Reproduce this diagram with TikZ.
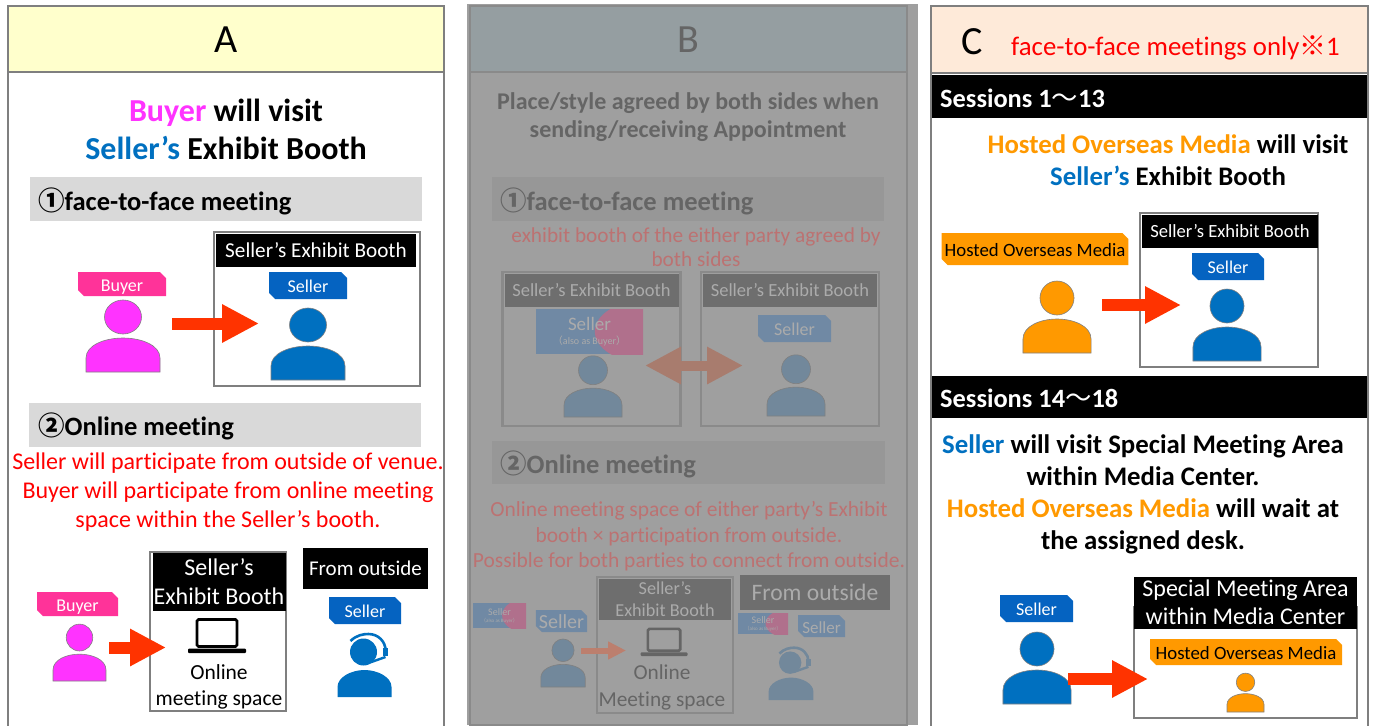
\documentclass[tikz,border=0pt]{standalone}
\usepackage{fontspec}
\setmainfont[Ligatures=NoCommon]{Carlito}
\newfontfamily\cjk{Noto Sans CJK JP}
\usetikzlibrary{shapes.misc,arrows.meta}
\definecolor{headyellow}{HTML}{FFFFCC}
\definecolor{headpeach}{HTML}{FEEAD9}
\definecolor{edgegray}{HTML}{7F7F7F}
\definecolor{bargray}{HTML}{D9D9D9}
\definecolor{buyerpink}{HTML}{FF33FF}
\definecolor{tagpink}{HTML}{FF3399}
\definecolor{sellerblue}{HTML}{0070C0}
\definecolor{tagblue}{HTML}{0563C1}
\definecolor{mediaorange}{HTML}{FF9900}
\definecolor{arrowred}{HTML}{FF3300}
\definecolor{dimback}{HTML}{9F9F9F}
\definecolor{dimhead}{HTML}{959EA1}
\definecolor{dimedge}{HTML}{8A8A8A}
\definecolor{dimbar}{HTML}{979797}
\definecolor{dimtext}{HTML}{656565}
\definecolor{dimred}{HTML}{BC7272}
\definecolor{dimblack}{HTML}{6E6E6E}
\definecolor{dimlight}{HTML}{ABABAB}
\definecolor{dimblue}{HTML}{72889B}
\definecolor{dimtag}{HTML}{7089A4}
\definecolor{dimpink}{HTML}{B0708C}
\definecolor{dimarrow}{HTML}{A87C6E}
\definecolor{dimarrowtwo}{HTML}{BC7F6E}
\newcommand{\fs}[2]{\fontsize{#1}{#2}\selectfont}
\newcommand{\tagtxt}[1]{\raisebox{-3.5pt}{#1}}
\tikzstyle{panel} = [rectangle,draw=edgegray,line width=1.5pt,inner sep=0pt]
\tikzstyle{booth} = [rectangle,draw=edgegray,line width=2.5pt,fill=white,inner sep=0pt]
\tikzstyle{blackbar} = [rectangle,fill=black,text=white,inner sep=0pt,align=center]
\tikzstyle{graybar} = [rectangle,fill=bargray,inner sep=0pt]
\tikzstyle{tagbox} = [chamfered rectangle,chamfered rectangle corners={north east,south west},chamfered rectangle sep=3pt,inner sep=0pt,text=white,text height=.75em,text depth=0pt,font=\fs{18}{20}]
\tikzstyle{persongap} = [rectangle,inner sep=0pt]
\tikzstyle{bigarrow} = [line width=12pt,draw=arrowred,-{Triangle[length=37pt,width=36pt]}]
\tikzstyle{dimarrowline} = [line width=10pt,draw=dimarrow,{Triangle[length=36pt,width=35pt]}-{Triangle[length=36pt,width=35pt]}]
\tikzstyle{title} = [inner sep=0pt,font=\bfseries\fs{32}{38},align=center]
\tikzstyle{note} = [inner sep=0pt,text=red,align=center]
\tikzset{dualtag/.style 2 args={rectangle,inner sep=0pt,fill=dimtag,text=dimlight,align=center,minimum width=#1,minimum height=#2,
  path picture={\fill[dimpink] (path picture bounding box.east) ellipse [x radius=.45*#1,y radius=.68*#2];}}}
\newcommand{\person}[6]{
  \begin{scope}[shift={(#2,#3)},xscale=#4,yscale=#5]
  \fill[#6,draw=gray,line width=.6pt] (-37,0)--(-37,-14) .. controls (-37,-27) and (-18,-34) .. (0,-34) .. controls (18,-34) and (37,-27) .. (37,-14)--(37,0)--cycle;
  \fill[#6,draw=gray,line width=.6pt] (0,-55) ellipse [x radius=18.5,y radius=17];
  \node(#1)[persongap,minimum width=#4*74pt,minimum height=#5*72pt] at (0,-36){};
  \end{scope}}
\newcommand{\headset}[5]{
  \begin{scope}[shift={(#2,#3)},scale=#4]
  \fill[#5] (-27,0)--(-27,-10) .. controls (-27,-20) and (-13,-27) .. (0,-27) .. controls (13,-27) and (27,-20) .. (27,-10)--(27,0)--cycle;
  \fill[#5] (-1,-45) circle (13.5);
  \draw[#5,line width=2.6pt] (-14,-56) .. controls (-8,-62) and (-1,-63) .. (4,-63) .. controls (14,-63) and (21,-55) .. (21,-47);
  \draw[#5,line width=5pt] (21,-49)--(21,-41);
  \draw[#5,line width=2.4pt] (21,-40)--(4,-34);
  \node(#1)[persongap,minimum width=#4*54pt,minimum height=#4*65pt] at (0,-32){};
  \end{scope}}
\newcommand{\laptop}[5]{
  \begin{scope}[shift={(#2,#3)},scale=#4]
  \draw[#5,line width=2.6pt,rounded corners=1.5pt] (-20,-6.5) rectangle (20,-33.5);
  \fill[#5,rounded corners=1pt] (-29,-4.5) rectangle (29,0);
  \coordinate(#1) at (0,-20);
  \end{scope}}
\begin{document}
\begin{tikzpicture}[x=1pt,y=-1pt]
\clip (0,0) rectangle (1375,725);
\fill[white] (0,0) rectangle (1375,725);

\node(panela)[panel,fill=white,minimum width=436pt,minimum height=673pt] at (226,408.5){};
\node(heada)[panel,fill=headyellow,minimum width=436pt,minimum height=66pt] at (226,39){};
\node(lettera)[inner sep=0pt,font=\fs{40}{42}] at (226,40){A};
\node(titlea)[title] at (226,129){{\color{buyerpink}Buyer} will visit\\{\color{sellerblue}Seller’s} Exhibit Booth};

\node(baraone)[graybar,minimum width=392pt,minimum height=44pt] at (226,199){};
\node[inner sep=0pt,anchor=west,font=\bfseries\fs{26.5}{30}] at (38,201){{\cjk ①}face-to-face meeting};
\node(boothone)[booth,minimum width=206pt,minimum height=154pt] at (317,309){};
\node(boothonebar)[blackbar,minimum width=200pt,minimum height=33pt,font=\fs{21.2}{24}] at (316,250.5){Seller’s Exhibit Booth};
\node(buyertagone)[tagbox,fill=tagpink,minimum width=88pt,minimum height=24pt] at (122,284){\tagtxt{Buyer}};
\node(sellertagone)[tagbox,fill=tagblue,minimum width=78pt,minimum height=27pt] at (308,285.5){\tagtxt{Seller}};
\person{buyerone}{123}{372}{1}{1}{buyerpink}
\person{sellerone}{308}{380}{1}{1}{sellerblue}
\coordinate(tipone) at (259,323.5);
\draw[bigarrow] (buyerone.east |- tipone) ++(12,0) -- (tipone);

\node(baratwo)[graybar,minimum width=392pt,minimum height=44pt] at (225,425){};
\node[inner sep=0pt,anchor=west,font=\bfseries\fs{26.5}{30}] at (38,426){{\cjk ②}Online meeting};
\node(notea)[note,font=\fs{24}{29}] at (228,492.5){Seller will participate from outside of venue.\\Buyer will participate from online meeting\\space within the Seller’s booth.};
\node(boothtwo)[booth,minimum width=136pt,minimum height=159pt] at (218,631.5){};
\node(boothtwobar)[blackbar,minimum width=133pt,minimum height=58pt,font=\fs{24}{29}] at (219,582){Seller’s\\Exhibit Booth};
\laptop{laptopa}{217}{653}{1}{black}
\node(laptopatext)[inner sep=0pt,align=center,font=\fs{21.5}{26}] at (219,687){Online\\meeting space};
\node(outsidea)[blackbar,minimum width=125pt,minimum height=41pt,font=\fs{21}{24}] at (365.5,568.5){From outside};
\node(sellertagout)[tagbox,fill=tagblue,minimum width=72pt,minimum height=27pt] at (365,610.5){\tagtxt{Seller}};
\headset{agenta}{364.5}{697}{1}{sellerblue}
\node(buyertagtwo)[tagbox,fill=tagpink,minimum width=81pt,minimum height=24pt] at (77.5,604){\tagtxt{Buyer}};
\person{buyertwo}{79.5}{681}{.716}{.79}{buyerpink}
\coordinate(tiptwo) at (166,647.5);
\draw[bigarrow,-{Triangle[length=36pt,width=35pt]}] (buyertwo.east |- tiptwo) ++(3,0) -- (tiptwo);

\fill[dimback] (467,4) rectangle (918,725);
\node(panelb)[panel,draw=dimedge,minimum width=437pt,minimum height=653pt] at (688.5,398.5){};
\node(headb)[panel,draw=dimedge,fill=dimhead,minimum width=437pt,minimum height=66pt] at (688.5,39){};
\node(letterb)[inner sep=0pt,text=dimtext,font=\fs{40}{42}] at (688,40){B};
\node(titleb)[title,text=dimtext,font=\bfseries\fs{24}{28}] at (688,117){Place/style agreed by both sides when\\sending/receiving Appointment};

\node(barbone)[graybar,fill=dimbar,minimum width=392pt,minimum height=44pt] at (688,199){};
\node[inner sep=0pt,anchor=west,text=dimtext,font=\bfseries\fs{26.5}{30}] at (500,201){{\cjk ①}face-to-face meeting};
\node(noteb)[note,text=dimred,font=\fs{21.3}{24.5}] at (696,247){exhibit booth of the either party agreed by\\both sides};
\node(boothbl)[booth,draw=dimedge,fill=dimback,minimum width=178pt,minimum height=154pt] at (591.5,349){};
\node(boothblbar)[blackbar,fill=dimblack,text=dimlight,minimum width=174pt,minimum height=33pt,font=\fs{18.5}{24}] at (591.5,290){Seller’s Exhibit Booth};
\node(boothbr)[booth,draw=dimedge,fill=dimback,minimum width=178pt,minimum height=154pt] at (790,349){};
\node(boothbrbar)[blackbar,fill=dimblack,text=dimlight,minimum width=174pt,minimum height=33pt,font=\fs{18.5}{24}] at (790,290){Seller’s Exhibit Booth};
\node(dualone)[dualtag={107pt}{45pt},font=\fs{19}{14}] at (589.5,331.5){Seller\\{\fs{10}{12}{\cjk （}also as Buyer{\cjk ）}}};
\node(sellertagbone)[tagbox,fill=dimtag,text=dimlight,minimum width=73pt,minimum height=27pt] at (794.5,328.5){\tagtxt{Seller}};
\person{sellerbl}{593}{417}{.784}{.85}{dimblue}
\person{sellerbr}{796}{416}{.784}{.85}{dimblue}
\coordinate(tipbl) at (645,365.5);
\coordinate(tipbr) at (743,365.5);
\draw[dimarrowline] (tipbl) -- (tipbr);

\node(barbtwo)[graybar,fill=dimbar,minimum width=393pt,minimum height=43pt] at (688.5,462.5){};
\node[inner sep=0pt,anchor=west,text=dimtext,font=\bfseries\fs{26.5}{30}] at (500,464){{\cjk ②}Online meeting};
\node(notebtwo)[note,text=dimred,font=\fs{21.5}{25.5}] at (689,536.5){Online meeting space of either party’s Exhibit\\booth × participation from outside.\\Possible for both parties to connect from outside.};
\node(boothbtwo)[booth,draw=dimedge,fill=dimback,minimum width=136pt,minimum height=136pt] at (665,645){};
\node(boothbtwobar)[blackbar,fill=dimblack,text=dimlight,minimum width=132pt,minimum height=41pt,font=\fs{18.2}{22}] at (665,599.5){Seller’s\\Exhibit Booth};
\laptop{laptopb}{664}{656}{.81}{dimtext}
\node(laptopbtext)[inner sep=0pt,align=center,text=dimtext,font=\fs{21.3}{27}] at (662,687){Online\\Meeting space};
\node(outsideb)[blackbar,fill=dimblack,text=dimlight,minimum width=150pt,minimum height=35pt,font=\fs{23.6}{28}] at (815,592.5){From outside};
\node(dualtwo)[dualtag={53pt}{25pt},font=\fs{10}{7}] at (499.5,615.5){Seller\\{\fs{5}{6}{\cjk （}also as Buyer{\cjk ）}}};
\node(dualthree)[dualtag={50pt}{21pt},font=\fs{10}{7}] at (763,623.5){Seller\\{\fs{5}{6}{\cjk （}also as Buyer{\cjk ）}}};
\node(sellertagbl)[tagbox,fill=dimtag,text=dimlight,minimum width=47pt,minimum height=22pt,font=\fs{20}{22}] at (561.5,621){\tagtxt{Seller}};
\node(sellertagbr)[tagbox,fill=dimtag,text=dimlight,minimum width=47pt,minimum height=22pt,font=\fs{17}{20}] at (821.5,626){\tagtxt{Seller}};
\person{sellerbtwo}{563}{687}{.6}{.667}{dimblue}
\headset{agentb}{791}{700}{.83}{dimblue}
\coordinate(tipbtwo) at (626,650.5);
\draw[line width=6pt,draw=dimarrowtwo,-{Triangle[length=18pt,width=17pt]}] (sellerbtwo.east |- tipbtwo) ++(-4,0) -- (tipbtwo);

\node(panelc)[panel,fill=white,minimum width=437pt,minimum height=673pt] at (1149.5,408.5){};
\node(headc)[panel,fill=headpeach,minimum width=437pt,minimum height=67pt] at (1149.5,39.5){};
\node(letterc)[inner sep=0pt,font=\fs{40}{42}] at (972,42){C};
\node(notec)[note,anchor=west,font=\fs{26.8}{28}] at (1011,48){face-to-face meetings only{\cjk ※}1};
\node(sessa)[blackbar,minimum width=435pt,minimum height=43pt] at (1149.5,96.5){};
\node[inner sep=0pt,anchor=west,text=white,font=\bfseries\fs{26.4}{28}] at (940,98){Sessions 1{\mdseries\cjk ～}13};
\node(titlec)[title,font=\bfseries\fs{26.8}{32}] at (1168,160){{\color{mediaorange}Hosted Overseas Media} will visit\\{\color{sellerblue}Seller’s} Exhibit Booth};
\node(boothc)[booth,minimum width=178pt,minimum height=154pt] at (1229,290){};
\node(boothcbar)[blackbar,minimum width=176pt,minimum height=33pt,font=\fs{18.6}{22}] at (1230,231.5){Seller’s Exhibit Booth};
\node(mediatagc)[tagbox,fill=mediaorange,text=black,minimum width=186pt,minimum height=32pt,font=\fs{18.8}{22}] at (1035,249){\tagtxt{Hosted Overseas Media}};
\node(sellertagc)[tagbox,fill=tagblue,minimum width=72pt,minimum height=27pt] at (1228,266.5){\tagtxt{Seller}};
\person{mediaone}{1057}{353}{.92}{1}{mediaorange}
\person{sellerc}{1227}{361}{.92}{1}{sellerblue}
\coordinate(tipc) at (1181,305);
\draw[bigarrow,-{Triangle[length=36pt,width=35pt]}] (mediaone.east |- tipc) ++(11,0) -- (tipc);

\node(sessb)[blackbar,minimum width=435pt,minimum height=42pt] at (1149.5,397){};
\node[inner sep=0pt,anchor=west,text=white,font=\bfseries\fs{26.4}{28}] at (940,398){Sessions 14{\mdseries\cjk ～}18};
\node(titlecc)[title,font=\bfseries\fs{26.8}{32}] at (1143,494){{\color{sellerblue}Seller} will visit Special Meeting Area\\within Media Center.\\{\color{mediaorange}Hosted Overseas Media} will wait at\\the assigned desk.};
\node(boothd)[booth,minimum width=223pt,minimum height=111pt] at (1245.5,662.5){};
\node(boothdbar)[blackbar,minimum width=223pt,minimum height=52pt,font=\fs{24}{28}] at (1245.5,602.5){Special Meeting Area\\ within Media Center};
\node(mediatagd)[tagbox,fill=mediaorange,text=black,minimum width=192pt,minimum height=26pt,font=\fs{18.8}{22}] at (1246,652){\tagtxt{Hosted Overseas Media}};
\node(sellertagd)[tagbox,fill=tagblue,minimum width=73pt,minimum height=27pt] at (1036.5,608.5){\tagtxt{Seller}};
\person{mediatwo}{1245.5}{712}{.5}{.54}{mediaorange}
\person{sellerd}{1037}{704}{.92}{1}{sellerblue}
\coordinate(tipd) at (1148,679);
\draw[bigarrow,-{Triangle[length=36pt,width=35pt]}] (sellerd.east |- tipd) ++(-3,0) -- (tipd);
\end{tikzpicture}
\end{document}
